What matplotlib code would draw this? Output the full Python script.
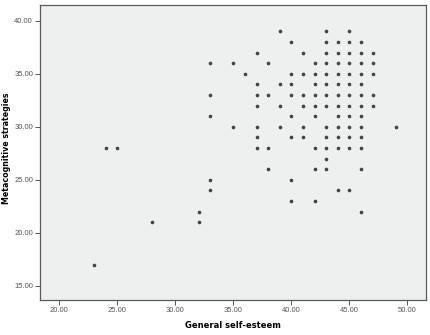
import matplotlib
matplotlib.use("Agg")
import matplotlib.pyplot as plt

# ── data ──────────────────────────────────────────────────────────
esteem = [
    39, 43, 45,
    40, 43, 44, 45, 46,
    37, 41, 43, 44, 45, 46, 47,
    33, 35, 38, 42, 43, 44, 45, 46, 47,
    36, 40, 41, 42, 43, 44, 45, 46, 47,
    37, 39, 40, 42, 43, 44, 45, 46,
    33, 37, 38, 40, 41, 42, 43, 44, 45, 46, 47,
    37, 39, 41, 42, 43, 44, 45, 46, 47,
    33, 40, 42, 44, 45, 46,
    35, 37, 39, 41, 43, 44, 45, 46, 49,
    37, 40, 41, 43, 44, 45, 46,
    24, 25, 37, 38, 42, 43, 44, 45, 46,
    43,
    38, 42, 43, 46,
    33, 40,
    33, 44, 45,
    40, 42,
    32, 46,
    28, 32,
    23,
]
metacog = [
    39, 39, 39,
    38, 38, 38, 38, 38,
    37, 37, 37, 37, 37, 37, 37,
    36, 36, 36, 36, 36, 36, 36, 36, 36,
    35, 35, 35, 35, 35, 35, 35, 35, 35,
    34, 34, 34, 34, 34, 34, 34, 34,
    33, 33, 33, 33, 33, 33, 33, 33, 33, 33, 33,
    32, 32, 32, 32, 32, 32, 32, 32, 32,
    31, 31, 31, 31, 31, 31,
    30, 30, 30, 30, 30, 30, 30, 30, 30,
    29, 29, 29, 29, 29, 29, 29,
    28, 28, 28, 28, 28, 28, 28, 28, 28,
    27,
    26, 26, 26, 26,
    25, 25,
    24, 24, 24,
    23, 23,
    22, 22,
    21, 21,
    17,
]
x_ticks = [20, 25, 30, 35, 40, 45, 50]
y_ticks = [15, 20, 25, 30, 35, 40]

# ── plot ──────────────────────────────────────────────────────────
fig = plt.figure(figsize=(4.31, 3.35), dpi=100)
ax = fig.add_axes([0.0928, 0.1045, 0.8956, 0.8795])
ax.set_facecolor("#eef0f0")

ax.scatter(esteem, metacog, s=7, color="#444444", linewidths=0, zorder=3)

ax.set_xlim(18.34, 51.6)
ax.set_ylim(13.68, 41.45)
ax.set_xticks(x_ticks)
ax.set_yticks(y_ticks)
ax.set_xticklabels([f"{v:.2f}" for v in x_ticks])
ax.set_yticklabels([f"{v:.2f}" for v in y_ticks])

for lbl in ax.get_xticklabels() + ax.get_yticklabels():
    lbl.set_family("Liberation Sans")
    lbl.set_fontsize(5.5)
    lbl.set_color("#555555")

ax.tick_params(direction="out", length=3.5, width=0.7, color="#555555", pad=1.5)
for sp in ax.spines.values():
    sp.set_color("#5a5a5a")
    sp.set_linewidth(0.9)

ax.set_xlabel("General self-esteem", fontsize=6, fontweight="bold",
              family="DejaVu Sans", labelpad=5)
ax.set_ylabel("Metacognitive strategies", fontsize=5.7, fontweight="bold",
              family="DejaVu Sans")
ax.yaxis.set_label_coords(-0.075, 0.516)

plt.savefig("out.png", dpi=100)
plt.close()
